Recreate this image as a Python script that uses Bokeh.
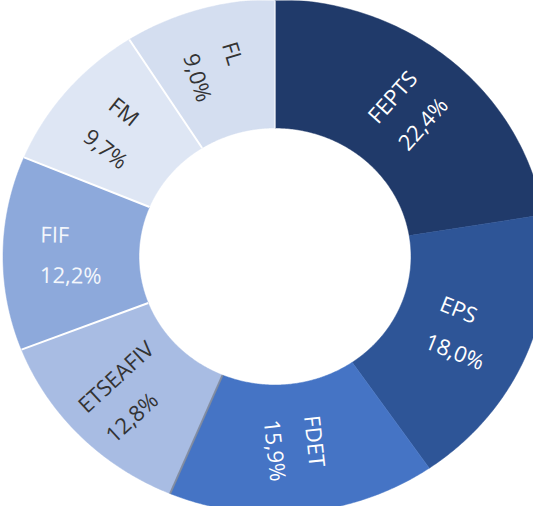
import numpy as np
from bokeh.plotting import figure
from bokeh.models import ColumnDataSource, Range1d
from bokeh.core.properties import value
from bokeh.embed import file_html
from bokeh.resources import INLINE

# ---- data (clockwise from 12 o'clock) ----
categories = ["FEPTS", "EPS", "FDET", "ETSEAFIV", "FIF", "FM", "FL"]
shares = [22.4, 18.0, 15.9, 12.8, 12.2, 9.7, 9.0]

# ---- style ----
fill_colors = ["#203A6A", "#2E5597", "#4574C5", "#A8BCE3", "#8DA9DB", "#DEE6F4", "#D4DEF0"]
label_colors = ["#FFFFFF", "#FFFFFF", "#FFFFFF", "#333333", "#F4F7FC", "#333333", "#333333"]
# line drawn at the start boundary of each slice
sep_colors = ["#FFFFFF", "#2E5597", "#4574C5", "#7E889C", "#FFFFFF", "#FFFFFF", "#FFFFFF"]
sep_alpha = [0.5, 0.0, 0.0, 0.9, 1.0, 1.0, 1.0]

W, H = 533, 506
RX, RY = 272.0, 257.0          # pixels per data unit (outer radius = 1)
CX, CY = 274.5, 256.0          # centre position inside the frame (px from left / top)
INNER = 0.5
LABEL_R = 0.75

x0 = -CX / RX
x1 = (W - CX) / RX
y1 = CY / RY
y0 = -(H - CY) / RY

p = figure(width=W, height=H, output_backend="svg", toolbar_location=None,
           x_range=Range1d(x0, x1), y_range=Range1d(y0, y1), min_border=0)
p.axis.visible = False
p.grid.visible = False
p.outline_line_color = None
p.background_fill_color = "white"
p.border_fill_color = "white"

vals = np.array(shares, dtype=float)
frac = vals / vals.sum()
ends = np.cumsum(frac) * 2 * np.pi
starts = ends - frac * 2 * np.pi

xs, ys = [], []
for a, b in zip(starts, ends):
    t = np.linspace(a, b, 120)
    ox, oy = np.sin(t), np.cos(t)
    ix, iy = INNER * np.sin(t[::-1]), INNER * np.cos(t[::-1])
    xs.append(list(np.concatenate([ox, ix])))
    ys.append(list(np.concatenate([oy, iy])))

p.patches(xs="xs", ys="ys", fill_color="color", line_color="color", line_width=0.5,
          source=ColumnDataSource(dict(xs=xs, ys=ys, color=fill_colors)))

# separators
sx0 = INNER * np.sin(starts)
sy0 = INNER * np.cos(starts)
sx1 = np.sin(starts)
sy1 = np.cos(starts)
p.segment(x0="x0", y0="y0", x1="x1", y1="y1", line_color="c", line_alpha="a", line_width=2,
          source=ColumnDataSource(dict(x0=sx0, y0=sy0, x1=sx1, y1=sy1, c=sep_colors, a=sep_alpha)))

# labels
mids = (starts + ends) / 2
lx = LABEL_R * np.sin(mids)
ly = LABEL_R * np.cos(mids)
angles = []
for m in mids:
    dx, dy = RX * np.sin(m), RY * np.cos(m)
    ang = np.arctan2(dy, dx)
    if dx < 0:
        ang += np.pi
    angles.append(ang)
texts = [f"{c}\n{v:.1f}".replace(".", ",") + "%" for c, v in zip(categories, shares)]

p.text(x="x", y="y", text="t", angle="ang", text_color="c",
       source=ColumnDataSource(dict(x=lx, y=ly, t=texts, ang=angles, c=label_colors)),
       text_font=value("Open Sans"), text_font_size="22px",
       text_align="left", anchor="center", text_line_height=1.35)

open("out.html", "w").write(file_html(p, INLINE))
